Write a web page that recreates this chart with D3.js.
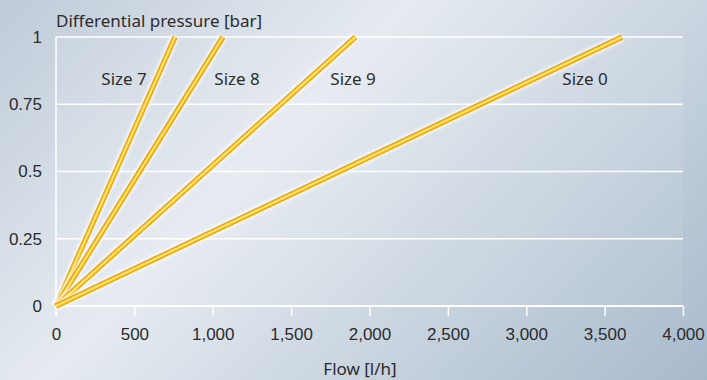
<!DOCTYPE html>
<html>
<head>
<meta charset="utf-8">
<script src="https://cdn.jsdelivr.net/npm/d3@7"></script>
<style>
  body { margin: 0; background: #dde4ec; }
  svg { display: block; font-family: "Noto Sans", "Open Sans", sans-serif; }
  .tick text { fill: #2c2c2c; font-size: 17px; }
</style>
</head>
<body>
<script>
// differential pressure vs flow, one line per size
var pressure = [0, 0.5, 1];
var sizeNames = ["Size 7", "Size 8", "Size 9", "Size 0"];
var flow7 = [0, 380, 759];
var flow8 = [0, 533, 1065];
var flow9 = [0, 955, 1910];
var flow0 = [0, 1806, 3611];
// where each label sits, in data units (flow, pressure)
var labelFlow = [434, 1155, 1895, 3375];
var labelPressure = [0.845, 0.845, 0.845, 0.845];
var xTicks = [0, 500, 1000, 1500, 2000, 2500, 3000, 3500, 4000];
var yTicks = [0, 0.25, 0.5, 0.75, 1];
var yTickLabels = ["0", "0.25", "0.5", "0.75", "1"];

var W = 707, H = 380;
var margin = {top: 37, right: 24, bottom: 74, left: 56},
    width = W - margin.left - margin.right,
    height = H - margin.top - margin.bottom;

var series = [flow7, flow8, flow9, flow0];

var svg = d3.select("body").append("svg")
    .attr("width", W)
    .attr("height", H);

var defs = svg.append("defs");
var bg = defs.append("linearGradient")
    .attr("id", "bg")
    .attr("gradientUnits", "userSpaceOnUse")
    .attr("x1", 0).attr("y1", 0)
    .attr("x2", 558).attr("y2", 542);
bg.append("stop").attr("offset", 0).attr("stop-color", "#bfcbd8");
bg.append("stop").attr("offset", 0.38).attr("stop-color", "#e6ebf1");
bg.append("stop").attr("offset", 1).attr("stop-color", "#a6b9cb");

var glow = defs.append("filter").attr("id", "glow")
    .attr("x", "-10%").attr("y", "-10%").attr("width", "120%").attr("height", "120%");
glow.append("feGaussianBlur").attr("stdDeviation", 1.8);

svg.append("rect")
    .attr("width", W).attr("height", H)
    .attr("fill", "url(#bg)");

var g = svg.append("g")
    .attr("transform", "translate(" + margin.left + "," + margin.top + ")");

// plot area is a touch lighter than the outside
g.append("rect")
    .attr("width", width).attr("height", height)
    .attr("fill", "#ffffff")
    .attr("opacity", 0.07);

var x = d3.scaleLinear().domain([0, 4000]).range([0, width]);
var y = d3.scaleLinear().domain([0, 1]).range([height, 0]);

// grid
g.selectAll(".grid")
    .data(yTicks.filter(function(d) { return d > 0; }))
    .enter().append("line")
    .attr("x1", 0).attr("x2", width)
    .attr("y1", function(d) { return y(d); })
    .attr("y2", function(d) { return y(d); })
    .attr("stroke", "#ffffff")
    .attr("stroke-width", 1.5);

// x axis
var xAxis = g.append("g")
    .attr("transform", "translate(0," + height + ")")
    .call(d3.axisBottom(x).tickValues(xTicks).tickSize(10).tickPadding(12)
        .tickFormat(d3.format(",")));
xAxis.select(".domain").remove();
xAxis.selectAll(".tick line").attr("stroke", "#ffffff").attr("stroke-width", 1.5);

g.append("line")
    .attr("x1", 0).attr("x2", width)
    .attr("y1", height).attr("y2", height)
    .attr("stroke", "#ffffff").attr("stroke-width", 2.2);

// y axis
var yAxis = g.append("g")
    .call(d3.axisLeft(y).tickValues(yTicks).tickSize(0).tickPadding(14)
        .tickFormat(function(d, i) { return yTickLabels[i]; }));
yAxis.select(".domain").remove();

g.append("line")
    .attr("x1", 0).attr("x2", 0)
    .attr("y1", 0).attr("y2", height + 10)
    .attr("stroke", "#ffffff").attr("stroke-width", 1.5);

// lines
var line = d3.line()
    .x(function(d, i) { return x(d); })
    .y(function(d, i) { return y(pressure[i]); });

var layers = [
    {color: "#ffffff", w: 9, op: 0.8, filter: "url(#glow)"},
    {color: "#eb9e08", w: 5.4, op: 1},
    {color: "#ffc61c", w: 3.2, op: 1},
    {color: "#fff0a8", w: 1.1, op: 1}
];

var lines = g.selectAll(".flowline")
    .data(series)
    .enter().append("g")
    .attr("class", "flowline");

layers.forEach(function(l) {
    lines.append("path")
        .attr("d", line)
        .attr("fill", "none")
        .attr("stroke", l.color)
        .attr("stroke-width", l.w)
        .attr("opacity", l.op)
        .attr("filter", l.filter || null);
});

// size labels
g.selectAll(".sizelabel")
    .data(sizeNames)
    .enter().append("text")
    .attr("class", "sizelabel")
    .attr("x", function(d, i) { return x(labelFlow[i]); })
    .attr("y", function(d, i) { return y(labelPressure[i]); })
    .attr("dy", "0.35em")
    .attr("text-anchor", "middle")
    .attr("fill", "#2c2c2c")
    .style("font-size", "17px")
    .text(function(d) { return d; });

// titles
svg.append("text")
    .attr("x", 56)
    .attr("y", 27)
    .attr("fill", "#2c2c2c")
    .style("font-size", "17px")
    .text("Differential pressure [bar]");

svg.append("text")
    .attr("x", 360)
    .attr("y", 375)
    .attr("text-anchor", "middle")
    .attr("fill", "#2c2c2c")
    .style("font-size", "17px")
    .text("Flow [l/h]");
</script>
</body>
</html>
